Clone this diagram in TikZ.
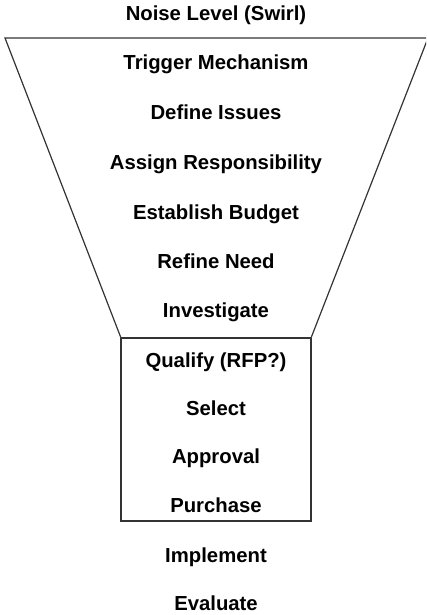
\documentclass[tikz,border=0pt]{standalone}
\usepackage{fontspec}
\setmainfont{Liberation Sans}
\begin{document}
\begin{tikzpicture}[x=1pt,y=-1pt,
  lbl/.style={font=\fontsize{20.3}{22}\selectfont\bfseries, inner sep=0pt, anchor=base},
  edge/.style={draw=black!80, line width=1.2pt}]
\useasboundingbox (0,0) rectangle (426,615);
% funnel corners
\coordinate (tl) at (5,38);
\coordinate (tr) at (428,38);
\coordinate (bl) at (121,338);
\coordinate (br) at (311,338);
\coordinate (xl) at (121,521);
\coordinate (xr) at (311,521);
\begin{scope}
\clip (0,0) rectangle (426,615);
\draw[edge, line join=miter] (bl) -- (tl) -- (tr) -- (br);
\end{scope}
\draw[edge] (bl) -- (br);
\draw[edge] (bl) -- (xl) -- (xr) -- (br);
% labels
\node[lbl] (n1) at (216,21) {Noise Level (Swirl)};
\node[lbl] (n2) at (216,70) {Trigger Mechanism};
\node[lbl] (n3) at (216,119) {Define Issues};
\node[lbl] (n4) at (216,169) {Assign Responsibility};
\node[lbl] (n5) at (216,219) {Establish Budget};
\node[lbl] (n6) at (216,268) {Refine Need};
\node[lbl] (n7) at (216,317) {Investigate};
\node[lbl] (n8) at (216,367) {Qualify (RFP?)};
\node[lbl] (n9) at (216,415) {Select};
\node[lbl] (n10) at (216,463) {Approval};
\node[lbl] (n11) at (216,512) {Purchase};
\node[lbl] (n12) at (216,562) {Implement};
\node[lbl] (n13) at (216,610) {Evaluate};
\end{tikzpicture}
\end{document}
